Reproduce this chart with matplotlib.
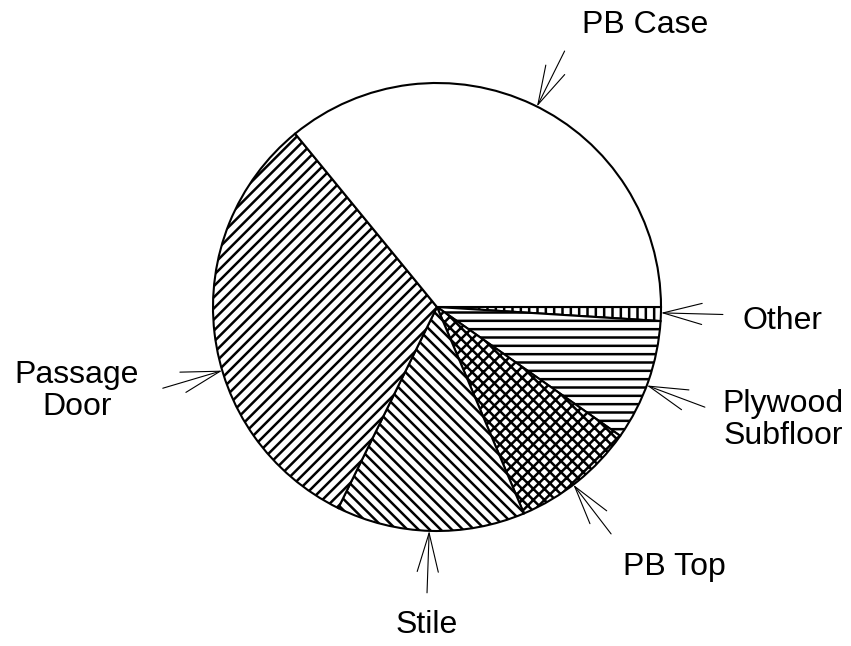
import numpy as np
import matplotlib
matplotlib.use('Agg')
import matplotlib.pyplot as plt

plt.rcParams['font.family'] = ['Liberation Sans', 'DejaVu Sans']
plt.rcParams['hatch.linewidth'] = 1.8

# Datos (porcentajes, en sentido horario desde las 3 en punto)
categorias = ['Other', 'Plywood\nSubfloor', 'PB Top', 'Stile', 'Passage\nDoor', 'PB Case']
valores = [1.0, 8.75, 8.9, 13.6, 31.8, 35.9]
tramas = ['||', '--', 'xxx', '\\\\\\', '///', '']

# Posición de las flechas (ángulo en grados) y de los textos (píxeles, y hacia arriba)
ang_flecha = [358.5, 339.5, 307.5, 268.0, 196.5, 63.5]
pos_texto = [(783, 325), (783, 226), (674, 79), (427, 21), (77, 255), (645, 621)]

W, H = 851, 646
cx, cy, R = 437, H - 307, 224
largo = 62

fig = plt.figure(figsize=(W / 100, H / 100), dpi=100)
ax = fig.add_axes([0, 0, 1, 1])

cunas, _ = ax.pie(valores, startangle=0, counterclock=False, center=(cx, cy),
                  radius=R, colors=['white'] * len(valores),
                  wedgeprops=dict(edgecolor='black', linewidth=1.5))
for c, t in zip(cunas, tramas):
    c.set_hatch(t)

ax.set_xlim(0, W)
ax.set_ylim(0, H)
ax.set_aspect('equal')
ax.axis('off')

for nombre, a, (tx, ty) in zip(categorias, ang_flecha, pos_texto):
    r = np.deg2rad(a)
    punta = (cx + R * np.cos(r), cy + R * np.sin(r))
    cola = (cx + (R + largo) * np.cos(r), cy + (R + largo) * np.sin(r))
    ax.annotate('', xy=punta, xytext=cola,
                arrowprops=dict(arrowstyle='->,head_length=2.8,head_width=0.76',
                                mutation_scale=10, lw=0.8, color='black',
                                shrinkA=0, shrinkB=0))
    ax.text(tx, ty, nombre, fontsize=23, ha='center', va='center',
            multialignment='center', linespacing=1.1)

plt.savefig('out.png', dpi=100)
